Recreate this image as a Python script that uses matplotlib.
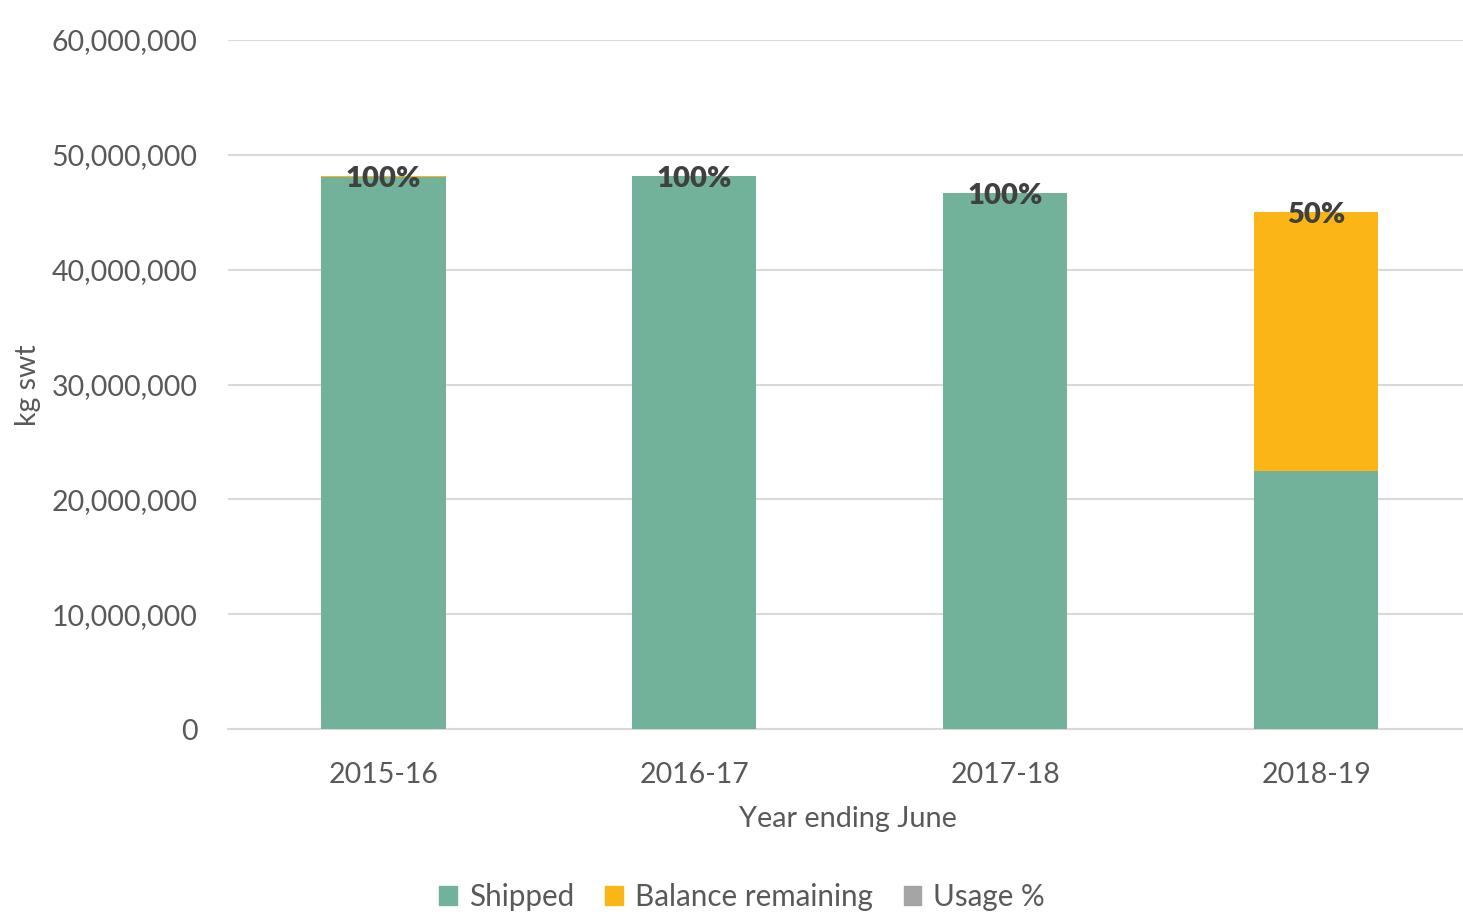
import matplotlib
matplotlib.use("Agg")
import matplotlib.pyplot as plt
from matplotlib.patches import Patch
from matplotlib.ticker import FuncFormatter
from matplotlib.transforms import offset_copy

plt.rcParams['font.family'] = ['Lato', 'DejaVu Sans']

years = ["2015-16", "2016-17", "2017-18", "2018-19"]
shipped = [48050000, 48200000, 46700000, 22470000]
balance = [150000, 0, 0, 22560000]
usage_labels = ["100%", "100%", "100%", "50%"]

c_ship = "#72B29A"
c_bal = "#FBB516"
c_use = "#A5A5A5"
txt = "#595959"

W, H = 1463, 914
fig = plt.figure(figsize=(W / 100, H / 100), dpi=100)
ax_left, ax_right = 228, 1471.5
ax_top, ax_bot = 40, 729
ax = fig.add_axes([ax_left / W, (H - ax_bot) / H, (ax_right - ax_left) / W, (ax_bot - ax_top) / H])

x = list(range(len(years)))
ax.bar(x, shipped, width=0.4, color=c_ship, zorder=3)
ax.bar(x, balance, width=0.4, bottom=shipped, color=c_bal, zorder=3)

lbl_tr = offset_copy(ax.transData, fig=fig, x=0, y=-2.5, units='points')
for i in x:
    total = shipped[i] + balance[i]
    ax.text(i, total, usage_labels[i], ha='center', va='center', fontsize=21,
            fontweight='heavy', color="#404040", zorder=5, transform=lbl_tr)

ax.set_xlim(-0.5, 3.5)
ax.set_ylim(0, 60000000)
ax.set_yticks(range(0, 60000001, 10000000))
ax.yaxis.set_major_formatter(FuncFormatter(lambda v, p: f"{int(v):,}"))
ax.set_xticks(x)
ax.set_xticklabels(years)
ax.grid(axis='y', color="#D9D9D9", linewidth=1.5, zorder=0)
for s in ['top', 'right', 'left']:
    ax.spines[s].set_visible(False)
ax.spines['bottom'].set_color("#D9D9D9")
ax.spines['bottom'].set_linewidth(1.5)
ax.tick_params(axis='both', length=0, labelsize=20.5, colors=txt)
ax.tick_params(axis='y', pad=22)
ax.tick_params(axis='x', pad=24)

fig.text(848 / W, 1 - 819 / H, "Year ending June", ha='center', va='center', fontsize=20.8, color=txt)
fig.text(28 / W, 1 - 385 / H, "kg swt", ha='center', va='center', rotation=90, fontsize=20.5, color=txt)

handles = [Patch(color=c_ship), Patch(color=c_bal), Patch(color=c_use)]
fig.legend(handles, ["Shipped", "Balance remaining", "Usage %"], loc='center',
           bbox_to_anchor=(742 / W, 1 - 897 / H), ncol=3, frameon=False, fontsize=21.3,
           labelcolor=txt, handlelength=0.6, handleheight=0.6, handletextpad=0.4,
           columnspacing=1.05)

fig.savefig("out.png", dpi=100)
